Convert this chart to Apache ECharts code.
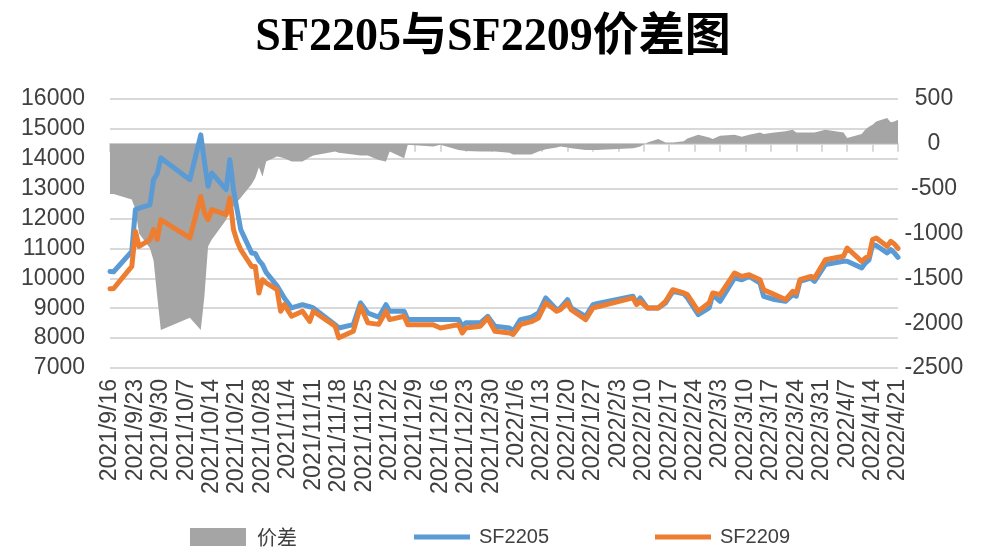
<!DOCTYPE html>
<html>
<head>
<meta charset="utf-8">
<title>SF2205与SF2209价差图</title>
<script src="https://cdn.jsdelivr.net/npm/echarts@6/dist/echarts.min.js"></script>
<style>
    html, body {margin: 0; padding: 0; background: #fff;}
    #main {width: 986px; height: 548px;}
</style>
</head>
<body>
<div id="main"></div>
<script>
// trading dates
var dates = [
    '2021-09-16', '2021-09-17', '2021-09-22', '2021-09-23', '2021-09-24', '2021-09-27', '2021-09-28', '2021-09-29', '2021-09-30',
    '2021-10-08', '2021-10-11', '2021-10-12', '2021-10-13', '2021-10-14', '2021-10-18', '2021-10-19', '2021-10-20', '2021-10-21',
    '2021-10-22', '2021-10-25', '2021-10-26', '2021-10-27', '2021-10-28', '2021-10-29',
    '2021-11-01', '2021-11-02', '2021-11-03', '2021-11-05', '2021-11-08', '2021-11-10', '2021-11-11', '2021-11-17', '2021-11-18',
    '2021-11-22', '2021-11-24', '2021-11-26', '2021-11-29',
    '2021-12-01', '2021-12-02', '2021-12-06', '2021-12-07', '2021-12-14', '2021-12-16', '2021-12-21', '2021-12-22', '2021-12-23',
    '2021-12-27', '2021-12-29', '2021-12-31',
    '2022-01-04', '2022-01-05', '2022-01-07', '2022-01-10', '2022-01-12', '2022-01-14', '2022-01-17', '2022-01-18', '2022-01-20',
    '2022-01-21', '2022-01-25', '2022-01-27', '2022-01-28',
    '2022-02-07', '2022-02-08', '2022-02-09', '2022-02-11', '2022-02-14', '2022-02-16', '2022-02-18', '2022-02-21', '2022-02-22',
    '2022-02-25', '2022-02-28',
    '2022-03-01', '2022-03-03', '2022-03-07', '2022-03-09', '2022-03-11', '2022-03-14', '2022-03-15', '2022-03-18', '2022-03-21',
    '2022-03-23', '2022-03-24', '2022-03-25', '2022-03-28', '2022-03-29',
    '2022-04-01', '2022-04-06', '2022-04-07', '2022-04-11', '2022-04-12', '2022-04-13', '2022-04-14', '2022-04-15', '2022-04-18',
    '2022-04-19', '2022-04-20', '2022-04-21'
];

var sf2205 = [
    10230, 10220, 10900, 12300, 12350, 12460, 13300, 13500, 14030,
    13300, 14800, 13900, 13080, 13525, 12970, 13970, 12970, 12300,
    11630, 10850, 10830, 10600, 10460, 10200,
    9750, 9550, 9345, 9010, 9120, 9050, 9010, 8450, 8340,
    8450, 9180, 8840, 8700,
    9120, 8900, 8900, 8620, 8620, 8620, 8620, 8400, 8510,
    8510, 8730, 8400,
    8340, 8230, 8620, 8700, 8840, 9345, 8950, 9000, 9290,
    9010, 8730, 9120, 9150,
    9400, 9180, 9345, 9010, 9010, 9180, 9565, 9480, 9345,
    8785, 9010,
    9455, 9230, 10010, 9950, 10065, 9840, 9400, 9290, 9230,
    9455, 9400, 9900, 10010, 9900,
    10460, 10570, 10570, 10350, 10510, 10620, 11130, 11100, 10850,
    10960, 10850, 10700
];

var sf2209 = [
    9650, 9660, 10400, 11570, 11070, 11295, 11630, 11300, 11960,
    11350, 12740, 12200, 11960, 12300, 12130, 12690, 11630, 11240,
    10960, 10400, 10400, 9510, 9955, 9850,
    9620, 8900, 9120, 8730, 8900, 8560, 8900, 8400, 8010,
    8230, 9065, 8510, 8460,
    8900, 8620, 8730, 8450, 8450, 8340, 8450, 8170, 8340,
    8400, 8675, 8230,
    8170, 8120, 8450, 8550, 8675, 9180, 8900, 8950, 9180,
    8950, 8620, 9010, 9040,
    9345, 9120, 9230, 9010, 9010, 9230, 9620, 9510, 9455,
    8900, 9180,
    9510, 9455, 10180, 10065, 10120, 9950, 9620, 9455, 9290,
    9565, 9510, 9955, 10065, 10010,
    10620, 10740, 11015, 10570, 10680, 10740, 11300, 11350, 11070,
    11240, 11150, 11000
];

// 价差, right axis
var spread = [
    -560, -560, -620, -730, -1000, -1165, -1300, -1700, -2075,
    -1940, -2075, -1700, -1145, -1070, -847, -735, -700, -650,
    -600, -450, -380, -260, -364, -196,
    -140, -150, -160, -196, -196, -150, -130, -85, -100,
    -120, -130, -130, -180,
    -196, -85, -160, -10, -30, -10, -70, -75, -80,
    -85, -85, -85,
    -100, -120, -120, -120, -85, -60, -40, -30, -40,
    -50, -70, -70, -70,
    -50, -40, -30, 15, 55, 15, 15, 30, 60,
    100, 70,
    55, 90, 100, 80, 100, 127, 110, 127, 140,
    157, 127, 127, 127, 127,
    157, 127, 65, 110, 160, 190, 213, 250, 288,
    240, 250, 268
];

var startDay = Date.parse('2021-09-16');
var dayMs = 86400000;

function toDay(s) {
    return Math.round((Date.parse(s) - startDay) / dayMs);
}

function pairs(vals) {
    var out = [];
    for (var i = 0; i < dates.length; i++) {
        out.push([toDay(dates[i]), vals[i]]);
    }
    return out;
}

function dayLabel(v) {
    var d = new Date(startDay + v * dayMs);
    return d.getUTCFullYear() + '/' + (d.getUTCMonth() + 1) + '/' + d.getUTCDate();
}

function plain(v) {
    return String(v);
}

var txtColor = '#404040';
var axisFont = {color: txtColor, fontSize: 23, fontFamily: 'Liberation Sans', formatter: plain};

var myChart = echarts.init(document.getElementById('main'));
var option = {
    animation: false,
    title: {
        text: 'SF2205与SF2209价差图',
        left: 'center',
        top: 10,
        textStyle: {fontFamily: 'Liberation Serif, Noto Sans CJK SC', fontSize: 46, fontWeight: 'bold', color: '#000'}
    },
    legend: [
        {data: ['价差'], left: 190, top: 527, padding: 0, icon: 'rect', itemWidth: 56, itemHeight: 18,
            textStyle: {fontFamily: 'Noto Sans CJK SC', fontSize: 20, color: txtColor, padding: [0, 0, 0, 6]}},
        {data: ['SF2205'], left: 414, top: 527, padding: 0, icon: 'rect', itemWidth: 56, itemHeight: 5,
            textStyle: {fontFamily: 'Liberation Sans', fontSize: 20, color: txtColor, padding: [0, 0, 0, 4]}},
        {data: ['SF2209'], left: 655, top: 527, padding: 0, icon: 'rect', itemWidth: 56, itemHeight: 5,
            textStyle: {fontFamily: 'Liberation Sans', fontSize: 20, color: txtColor, padding: [0, 0, 0, 4]}}
    ],
    grid: {left: 110, right: 88, top: 99, bottom: 180},
    xAxis: {
        type: 'value',
        min: 0,
        max: 217,
        interval: 7,
        axisLine: {lineStyle: {color: '#d9d9d9', width: 2}},
        axisTick: {show: true, length: 8, lineStyle: {color: '#d9d9d9', width: 2}},
        splitLine: {show: false},
        axisLabel: {rotate: 90, margin: 11, formatter: dayLabel, color: txtColor, fontSize: 23, fontFamily: 'Liberation Sans'}
    },
    yAxis: [
        {
            type: 'value', min: 7000, max: 16000, interval: 1000,
            axisLine: {show: false}, axisTick: {show: false},
            splitLine: {lineStyle: {color: '#d9d9d9', width: 2}},
            axisLabel: Object.assign({margin: 25}, axisFont)
        },
        {
            type: 'value', min: -2500, max: 500, interval: 500,
            axisLine: {show: false}, axisTick: {show: false},
            splitLine: {show: false},
            axisLabel: Object.assign({margin: 36, align: 'center'}, axisFont)
        }
    ],
    series: [
        {
            name: '价差', type: 'line', yAxisIndex: 1, data: pairs(spread),
            symbol: 'none', lineStyle: {width: 0}, itemStyle: {color: '#a5a5a5'},
            areaStyle: {color: '#a5a5a5', opacity: 1}, z: 1
        },
        {
            name: 'SF2205', type: 'line', data: pairs(sf2205),
            symbol: 'none', itemStyle: {color: '#5b9bd5'},
            lineStyle: {color: '#5b9bd5', width: 5, join: 'round', cap: 'round'}, z: 2
        },
        {
            name: 'SF2209', type: 'line', data: pairs(sf2209),
            symbol: 'none', itemStyle: {color: '#ed7d31'},
            lineStyle: {color: '#ed7d31', width: 5, join: 'round', cap: 'round'}, z: 3
        }
    ]
};
myChart.setOption(option);
</script>
</body>
</html>
